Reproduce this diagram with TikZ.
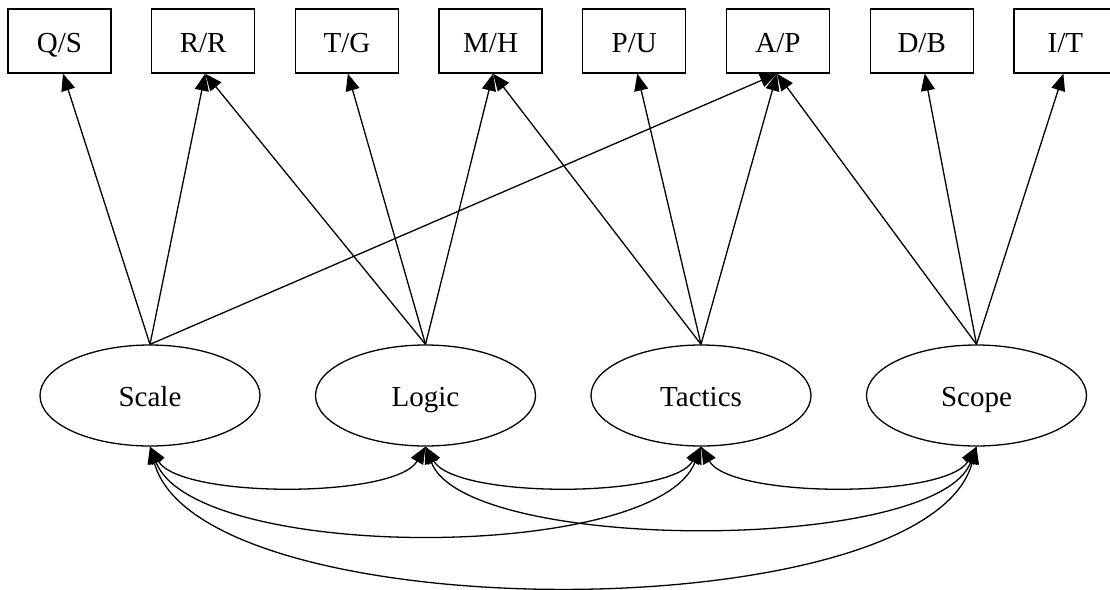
\documentclass[tikz,border=0pt]{standalone}
\usepackage{fontspec}
\setmainfont{Liberation Serif}
\usetikzlibrary{shapes.geometric,arrows.meta}
\begin{document}
\begin{tikzpicture}[x=1pt,y=-1pt,
  every node/.style={font=\fontsize{29}{34}\selectfont, text height=23pt, text depth=1pt},
  boxnode/.style={draw, line width=1.3pt, rectangle, minimum width=103pt, minimum height=64pt, inner sep=0pt},
  latent/.style={draw, line width=1.3pt, ellipse, minimum width=220pt, minimum height=101pt, inner sep=0pt},
  toparrow/.style={line width=1.3pt, -{Triangle[length=17pt,width=14pt]}},
  cov/.style={line width=1.3pt, {Triangle[length=17pt,width=14pt]}-{Triangle[length=17pt,width=14pt]}}]
\useasboundingbox (0,0) rectangle (1110,589);
\fill[white] (0,0) rectangle (1110,589);
% indicator boxes
\node[boxnode] (qs) at (59.5,41) {Q/S};
\node[boxnode] (rr) at (203.2,41) {R/R};
\node[boxnode] (tg) at (346.9,41) {T/G};
\node[boxnode] (mh) at (490.6,41) {M/H};
\node[boxnode] (pu) at (634.3,41) {P/U};
\node[boxnode] (ap) at (778,41) {A/P};
\node[boxnode] (db) at (921.7,41) {D/B};
\node[boxnode] (it) at (1065.4,41) {I/T};
% latent ellipses
\node[latent] (scale) at (150,395.5) {Scale};
\node[latent] (logic) at (425.5,395.5) {Logic};
\node[latent] (tactics) at (701,395.5) {Tactics};
\node[latent] (scope) at (976.5,395.5) {Scope};
% loadings
\draw[toparrow] (scale.north) -- ([xshift=3.5pt]qs.south);
\draw[toparrow] (scale.north) -- ([xshift=2pt]rr.south);
\draw[toparrow] (scale.north) -- ([xshift=-1pt]ap.south);
\draw[toparrow] (logic.north) -- ([xshift=2pt]rr.south);
\draw[toparrow] (logic.north) -- ([xshift=1pt]tg.south);
\draw[toparrow] (logic.north) -- ([xshift=2.5pt]mh.south);
\draw[toparrow] (tactics.north) -- ([xshift=2.5pt]mh.south);
\draw[toparrow] (tactics.north) -- ([xshift=3pt]pu.south);
\draw[toparrow] (tactics.north) -- ([xshift=-1pt]ap.south);
\draw[toparrow] (scope.north) -- ([xshift=-1pt]ap.south);
\draw[toparrow] (scope.north) -- ([xshift=3pt]db.south);
\draw[toparrow] (scope.north) -- ([xshift=-2pt]it.south);
% covariances
\draw[cov] (scale.south) .. controls +(30,52) and +(-30,52) .. (logic.south);
\draw[cov] (logic.south) .. controls +(30,52) and +(-30,52) .. (tactics.south);
\draw[cov] (tactics.south) .. controls +(30,52) and +(-30,52) .. (scope.south);
\draw[cov] (scale.south) .. controls +(45,116) and +(-45,116) .. (tactics.south);
\draw[cov] (logic.south) .. controls +(40,107) and +(-40,107) .. (scope.south);
\draw[cov] (scale.south) .. controls +(50,185) and +(-50,185) .. (scope.south);
\end{tikzpicture}
\end{document}
